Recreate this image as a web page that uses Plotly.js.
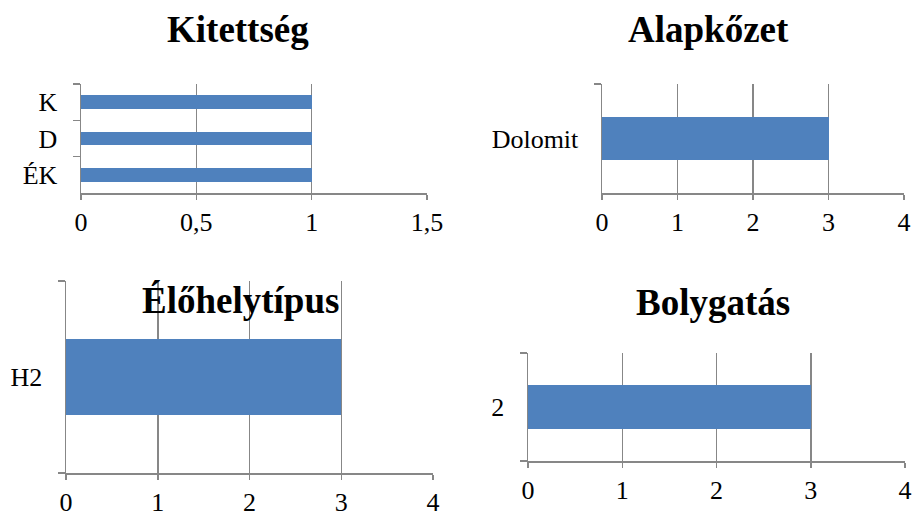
<!DOCTYPE html>
<html>
<head>
<meta charset="utf-8">
<script src="https://cdn.plot.ly/plotly-3.0.1.min.js"></script>
<style>
html,body{margin:0;padding:0;background:#fff;}
#chart{width:912px;height:515px;}
#chart .xtick text, #chart .ytick text, #chart .annotation-text {font-family: "Liberation Serif", "Times New Roman", serif !important;}
</style>
</head>
<body>
<div id="chart"></div>
<script>
// Data
const kitettsegCats = ["ÉK", "D", "K"];
const kitettsegVals = [1, 1, 1];
const alapkozetCats = ["Dolomit"];
const alapkozetVals = [3];
const elohelyCats = ["H2"];
const elohelyVals = [3];
const bolygatasCats = ["2"];
const bolygatasVals = [3];
const titles = ["Kitettség", "Alapkőzet", "Élőhelytípus", "Bolygatás"];

const barColor = "#4F81BD";
const gridColor = "#878787";
const FONT = "Liberation Serif";

function bar(cats, vals, xa, ya, width) {
  return {type: "bar", orientation: "h", x: vals, y: cats, xaxis: xa, yaxis: ya,
    width: width, marker: {color: barColor, line: {width: 0}}, hoverinfo: "none"};
}

const data = [
  bar(kitettsegCats, kitettsegVals, "x", "y", 0.375),
  bar(alapkozetCats, alapkozetVals, "x2", "y2", 0.4),
  bar(elohelyCats, elohelyVals, "x3", "y3", 0.4),
  bar(bolygatasCats, bolygatasVals, "x4", "y4", 0.4)
];

function xax(domain, range, dtick, anchor) {
  return {domain: domain, range: range, dtick: dtick, tick0: 0, anchor: anchor,
    showgrid: true, gridcolor: gridColor, gridwidth: 1.5, zeroline: false,
    showline: true, linecolor: gridColor, linewidth: 1.5,
    ticks: "outside", ticklen: 5, tickcolor: gridColor, tickwidth: 1.5,
    tickfont: {family: FONT, size: 26, color: "#000"}};
}
function yax(domain, anchor, n) {
  return {domain: domain, anchor: anchor, type: "category", range: [-0.5, n - 0.5],
    showgrid: false, zeroline: false, showline: true, linecolor: gridColor, linewidth: 1.5,
    ticks: "outside", tickson: "boundaries", ticklen: 7, tickcolor: gridColor, tickwidth: 1.5,
    ticklabelstandoff: 17,
    tickfont: {family: FONT, size: 26, color: "#000"}};
}

const W = 912, H = 515;
const fx = p => p / W, fy = p => 1 - p / H;

const layout = {
  width: W, height: H, showlegend: false,
  margin: {l: 0, r: 0, t: 0, b: 0},
  paper_bgcolor: "#fff", plot_bgcolor: "rgba(0,0,0,0)",
  separators: ", ",
  bargap: 0,
  font: {family: FONT, size: 26, color: "#000"},
  xaxis: xax([fx(81), fx(427)], [0, 1.5], 0.5, "y"),
  yaxis: yax([fy(193), fy(84)], "x", 3),
  xaxis2: xax([fx(602), fx(904)], [0, 4], 1, "y2"),
  yaxis2: yax([fy(193), fy(84)], "x2", 1),
  xaxis3: xax([fx(66), fx(433)], [0, 4], 1, "y3"),
  yaxis3: yax([fy(473), fy(281)], "x3", 1),
  xaxis4: xax([fx(528), fx(905)], [0, 4], 1, "y4"),
  yaxis4: yax([fy(461), fy(353)], "x4", 1),
  annotations: [
    {text: "<b>" + titles[0] + "</b>", x: fx(238), y: fy(30)},
    {text: "<b>" + titles[1] + "</b>", x: fx(708), y: fy(30)},
    {text: "<b>" + titles[2] + "</b>", x: fx(240), y: fy(300)},
    {text: "<b>" + titles[3] + "</b>", x: fx(713), y: fy(302)}
  ].map(a => Object.assign(a, {xref: "paper", yref: "paper", showarrow: false,
    xanchor: "center", yanchor: "middle", font: {family: FONT, size: 37, color: "#000"}}))
};

Plotly.newPlot("chart", data, layout, {displayModeBar: false, staticPlot: true});
</script>
</body>
</html>
